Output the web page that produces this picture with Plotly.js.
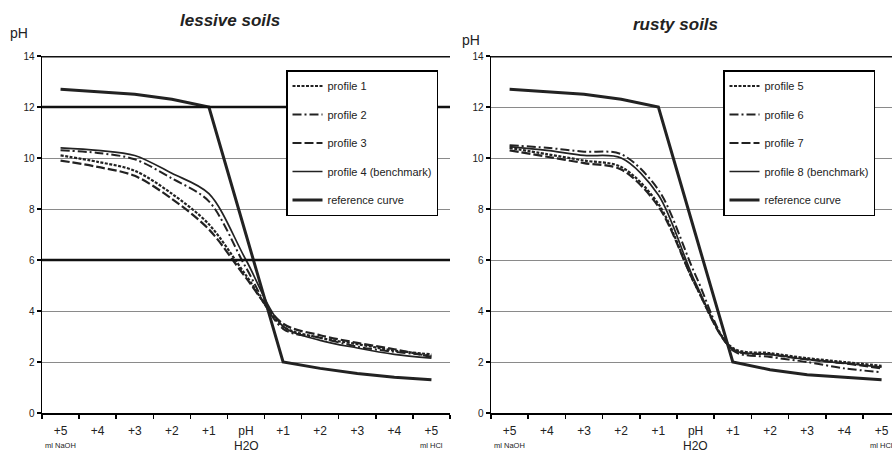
<!DOCTYPE html>
<html>
<head>
<meta charset="utf-8">
<script src="https://cdn.plot.ly/plotly-3.0.1.min.js"></script>
<style>html,body{margin:0;padding:0;background:#fff}#chart{width:892px;height:455px}</style>
</head>
<body>
<div id="chart"></div>
<script>
// Categories (ml added): NaOH side, water, HCl side
const categories = ['+5 NaOH','+4 NaOH','+3 NaOH','+2 NaOH','+1 NaOH','H2O','+1 HCl','+2 HCl','+3 HCl','+4 HCl','+5 HCl'];
const tickLabels = ['+5','+4','+3','+2','+1','pH','+1','+2','+3','+4','+5'];

// lessive soils
const profile1 = [10.1, 9.85, 9.5, 8.6, 7.4, 5.4, 3.4, 2.95, 2.7, 2.45, 2.3];
const profile2 = [10.3, 10.2, 9.95, 9.2, 8.3, 5.7, 3.3, 2.95, 2.6, 2.4, 2.25];
const profile3 = [9.9, 9.65, 9.3, 8.4, 7.2, 5.3, 3.5, 3.05, 2.75, 2.5, 2.2];
const profile4 = [10.4, 10.3, 10.1, 9.4, 8.6, 6.0, 3.4, 2.85, 2.55, 2.3, 2.15];
const referenceL = [12.7, 12.6, 12.5, 12.3, 12.0, 7.0, 2.0, 1.75, 1.55, 1.4, 1.3];

// rusty soils
const profile5 = [10.4, 10.15, 9.9, 9.65, 8.2, 5.0, 2.55, 2.35, 2.15, 2.0, 1.85];
const profile6 = [10.5, 10.4, 10.25, 10.15, 8.75, 5.4, 2.45, 2.2, 2.0, 1.75, 1.6];
const profile7 = [10.3, 10.05, 9.8, 9.55, 8.1, 5.0, 2.5, 2.3, 2.1, 1.95, 1.75];
const profile8 = [10.45, 10.3, 10.1, 10.0, 8.55, 5.1, 2.5, 2.3, 2.1, 1.95, 1.8];
const referenceR = [12.7, 12.6, 12.5, 12.3, 12.0, 7.0, 2.0, 1.7, 1.5, 1.4, 1.3];

const xs = categories.map((_, i) => i);
const ink = '#222';
const FONT = 'Liberation Sans, Arial, sans-serif';

function tr(name, y, dash, width, xa, ya, leg, shape) {
  return {
    type: 'scatter', mode: 'lines', name: name, x: xs, y: y,
    xaxis: xa, yaxis: ya, legend: leg, legendgroup: leg + name,
    text: categories, hoverinfo: 'text+y',
    line: {color: ink, width: width, dash: dash, shape: shape || 'spline', smoothing: 0.9}
  };
}
const dFine = '3px,1.5px', dDot = '9px,3px,2px,3px', dLong = '9px,3px';

const traces = [
  tr('profile 1', profile1, dFine, 2.2, 'x', 'y', 'legend'),
  tr('profile 2', profile2, dDot, 2, 'x', 'y', 'legend'),
  tr('profile 3', profile3, dLong, 2.2, 'x', 'y', 'legend'),
  tr('profile 4 (benchmark)', profile4, 'solid', 1.7, 'x', 'y', 'legend'),
  tr('reference curve', referenceL, 'solid', 3, 'x', 'y', 'legend', 'linear'),
  tr('profile 5', profile5, dFine, 2.2, 'x2', 'y2', 'legend2'),
  tr('profile 6', profile6, dDot, 2, 'x2', 'y2', 'legend2'),
  tr('profile 7', profile7, dLong, 2.2, 'x2', 'y2', 'legend2'),
  tr('profile 8 (benchmark)', profile8, 'solid', 1.7, 'x2', 'y2', 'legend2'),
  tr('reference curve', referenceR, 'solid', 3, 'x2', 'y2', 'legend2', 'linear')
];

const W = 892, H = 455;
const px = v => v / W, py = v => (H - v) / H;

function xaxis(domain, range) {
  return {
    domain: domain, range: range, showgrid: false, zeroline: false,
    tickmode: 'array', tickvals: xs, ticktext: tickLabels, ticks: '',
    tickfont: {family: FONT, size: 12, color: ink}, ticklabelstandoff: 6,
    showline: true, linecolor: '#000', linewidth: 1.5,
    minor: {tick0: 0.5, dtick: 1, ticks: 'outside', ticklen: 4, tickcolor: '#000', tickwidth: 1.5, showgrid: false},
    fixedrange: true
  };
}
function yaxis(anchor) {
  return {
    domain: [py(413), py(56)], range: [0, 14], dtick: 2, anchor: anchor,
    showgrid: true, gridcolor: '#8a8a8a', gridwidth: 1, zeroline: false,
    showline: true, linecolor: '#000', linewidth: 1.5,
    ticks: 'outside', ticklen: 4, tickcolor: '#000', tickwidth: 1.2,
    tickfont: {family: FONT, size: 10, color: ink}, fixedrange: true
  };
}
function legend(x) {
  return {
    x: px(x), y: py(70), xanchor: 'left', yanchor: 'top',
    bgcolor: '#fff', bordercolor: '#000', borderwidth: 1.5,
    font: {family: FONT, size: 11, color: ink},
    traceorder: 'grouped', tracegroupgap: 9.5, itemwidth: 30
  };
}
function hline(xa, ya, y, w) {
  return {type: 'line', xref: xa + ' domain', yref: ya, x0: 0, x1: 1, y0: y, y1: y,
          line: {color: '#111', width: w}, layer: 'above'};
}
function ann(text, x, y, size, xref, extra) {
  return Object.assign({text: text, x: x, y: y, xref: xref || 'paper', yref: 'paper',
    showarrow: false, xanchor: 'center', yanchor: 'middle',
    font: {family: FONT, size: size, color: ink}}, extra || {});
}

const layout = {
  width: W, height: H, margin: {l: 0, r: 0, t: 0, b: 0},
  paper_bgcolor: '#fff', plot_bgcolor: '#fff',
  xaxis: Object.assign(xaxis([px(42), px(450)], [-0.5, 10.5]), {anchor: 'y'}),
  yaxis: yaxis('x'),
  xaxis2: Object.assign(xaxis([px(491), 1], [-0.5, 10.28]), {anchor: 'y2'}),
  yaxis2: yaxis('x2'),
  legend: legend(286),
  legend2: legend(723),
  shapes: [
    hline('x', 'y', 14, 3), hline('x', 'y', 12, 2.5), hline('x', 'y', 6, 2.5),
    hline('x2', 'y2', 14, 3)
  ],
  annotations: [
    ann('<b><i>lessive soils</i></b>', px(230), py(21), 17),
    ann('<b><i>rusty soils</i></b>', px(675), py(24), 17),
    ann('pH', px(19), py(33), 14),
    ann('pH', px(471), py(40), 14),
    ann('ml NaOH', 0, py(445), 7.5, 'x'),
    ann('H2O', 5, py(446), 12, 'x'),
    ann('ml HCl', 10, py(445), 7.5, 'x'),
    ann('ml NaOH', 0, py(445), 7.5, 'x2'),
    ann('H2O', 5, py(446), 12, 'x2'),
    ann('ml HCl', 10, py(445), 7.5, 'x2')
  ],
  showlegend: true
};

Plotly.newPlot('chart', traces, layout, {displayModeBar: false, staticPlot: true});
</script>
</body>
</html>
